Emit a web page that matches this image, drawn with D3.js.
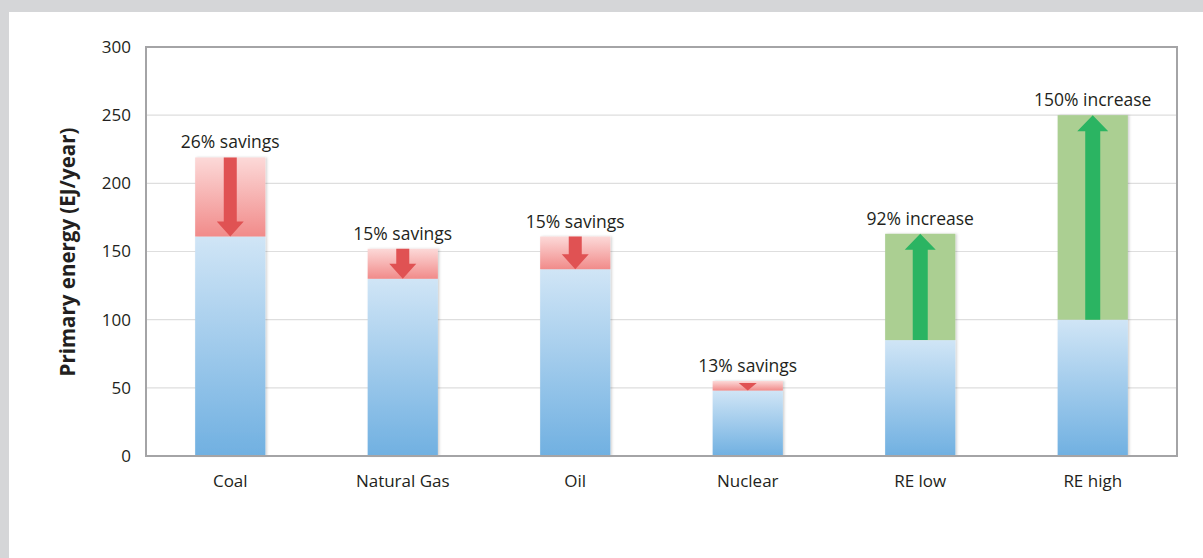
<!DOCTYPE html>
<html>
<head>
<meta charset="utf-8">
<script src="https://cdn.jsdelivr.net/npm/d3@7"></script>
<style>
body { margin: 0; background: #d5d6d8; }
svg { display: block; }
text { font-family: "Open Sans", "DejaVu Sans", sans-serif; fill: #231f20; }
</style>
</head>
<body>
<svg id="chart" width="1203" height="558"></svg>
<script>
// categories and values (EJ/year)
var categories = ["Coal", "Natural Gas", "Oil", "Nuclear", "RE low", "RE high"];
var baseValues = [161, 130, 137, 48, 85, 100];
var topValues  = [219, 152, 161, 55, 163, 250];
var labels = ["26% savings", "15% savings", "15% savings", "13% savings", "92% increase", "150% increase"];
var yTicks = [0, 50, 100, 150, 200, 250, 300];

var svg = d3.select("#chart"),
    WIDTH = 1203,
    HEIGHT = 558,
    MARGINS = { top: 47, right: 26, bottom: 102, left: 146 };

// white panel
svg.append("rect")
    .attr("x", 9).attr("y", 12)
    .attr("width", WIDTH - 9).attr("height", HEIGHT - 12)
    .attr("fill", "#fff");

var defs = svg.append("defs");
function grad(id, c1, c2) {
    var g = defs.append("linearGradient").attr("id", id)
        .attr("x1", 0).attr("y1", 0).attr("x2", 0).attr("y2", 1);
    g.append("stop").attr("offset", "0%").attr("stop-color", c1);
    g.append("stop").attr("offset", "100%").attr("stop-color", c2);
}
grad("blueGrad", "#d0e5f6", "#70b0e1");
grad("redGrad", "#fcd9d8", "#f18b8a");

var shadow = defs.append("filter").attr("id", "shadow")
    .attr("x", "-10%").attr("y", "-10%").attr("width", "130%").attr("height", "120%");
shadow.append("feDropShadow").attr("dx", 1.5).attr("dy", 0).attr("stdDeviation", 1.2)
    .attr("flood-color", "#000").attr("flood-opacity", 0.18);

var xScale = d3.scaleBand()
    .domain(categories)
    .range([MARGINS.left, WIDTH - MARGINS.right])
    .paddingInner(0.593)
    .paddingOuter(0.285);

var yScale = d3.scaleLinear()
    .domain([0, 300])
    .range([HEIGHT - MARGINS.bottom, MARGINS.top]);

// gridlines
svg.append("g").selectAll("line")
    .data(yTicks.filter(function (d) { return d > 0 && d < 300; }))
    .enter().append("line")
    .attr("x1", MARGINS.left).attr("x2", WIDTH - MARGINS.right)
    .attr("y1", function (d) { return yScale(d); })
    .attr("y2", function (d) { return yScale(d); })
    .attr("stroke", "#dedede")
    .attr("stroke-width", 1.2);

// y axis tick labels
var yAxis = d3.axisLeft(yScale).tickValues(yTicks).tickSize(0).tickPadding(15);
var yg = svg.append("g")
    .attr("transform", "translate(" + MARGINS.left + ",0)")
    .call(yAxis);
yg.select(".domain").remove();
yg.selectAll("text").style("font-size", "17px").attr("fill", "#231f20")
    .style("font-family", "'Open Sans', sans-serif");

// x axis category labels
var xAxis = d3.axisBottom(xScale).tickSize(0).tickPadding(19);
var xg = svg.append("g")
    .attr("transform", "translate(0," + yScale(0) + ")")
    .call(xAxis);
xg.select(".domain").remove();
xg.selectAll("text").style("font-size", "17px").attr("fill", "#231f20")
    .style("font-family", "'Open Sans', sans-serif");

var bw = xScale.bandwidth();

var bars = svg.append("g").selectAll("g")
    .data(categories)
    .enter().append("g")
    .attr("filter", "url(#shadow)");

// base (blue) bars
bars.append("rect")
    .attr("x", function (d) { return xScale(d); })
    .attr("width", bw)
    .attr("y", function (d, i) { return yScale(baseValues[i]); })
    .attr("height", function (d, i) { return yScale(0) - yScale(baseValues[i]); })
    .attr("fill", "url(#blueGrad)");

// change (red/green) bars
bars.append("rect")
    .attr("x", function (d) { return xScale(d); })
    .attr("width", bw)
    .attr("y", function (d, i) { return yScale(topValues[i]); })
    .attr("height", function (d, i) { return yScale(baseValues[i]) - yScale(topValues[i]); })
    .attr("fill", function (d, i) { return i < 4 ? "url(#redGrad)" : "#abcf92"; });

// arrows
svg.append("g").selectAll("path")
    .data(categories)
    .enter().append("path")
    .attr("fill", function (d, i) { return i < 4 ? "#e05253" : "#2bb462"; })
    .attr("d", function (d, i) {
        var cx = xScale(d) + bw / 2;
        var yTop = yScale(topValues[i]), yBase = yScale(baseValues[i]);
        var p = d3.path();
        if (i < 4) {
            // downward arrow: tip at the base value
            if (yBase - yTop <= 15) {
                // head only
                var h = yBase - yTop - 2;
                p.moveTo(cx - 9, yBase - h);
                p.lineTo(cx + 9, yBase - h);
                p.lineTo(cx, yBase);
                p.closePath();
                return p.toString();
            }
            var hw = 13.5, sw = 6.5, hh = 15;
            var hs = yBase - hh;
            p.moveTo(cx - sw, yTop);
            p.lineTo(cx + sw, yTop);
            p.lineTo(cx + sw, hs);
            p.lineTo(cx + hw, hs);
            p.lineTo(cx, yBase);
            p.lineTo(cx - hw, hs);
            p.lineTo(cx - sw, hs);
            p.closePath();
        } else {
            // upward arrow: tip at the top value
            var hw2 = 15.5, sw2 = 7.5, hh2 = 16;
            var he = yTop + hh2;
            p.moveTo(cx, yTop);
            p.lineTo(cx + hw2, he);
            p.lineTo(cx + sw2, he);
            p.lineTo(cx + sw2, yBase);
            p.lineTo(cx - sw2, yBase);
            p.lineTo(cx - sw2, he);
            p.lineTo(cx - hw2, he);
            p.closePath();
        }
        return p.toString();
    });

// annotation labels
svg.append("g").selectAll("text")
    .data(categories)
    .enter().append("text")
    .attr("x", function (d) { return xScale(d) + bw / 2; })
    .attr("y", function (d, i) { return yScale(topValues[i]) - 9; })
    .attr("text-anchor", "middle")
    .style("font-size", "17.5px")
    .text(function (d, i) { return labels[i]; });

// plot frame
svg.append("rect")
    .attr("x", MARGINS.left).attr("y", MARGINS.top)
    .attr("width", WIDTH - MARGINS.right - MARGINS.left)
    .attr("height", yScale(0) - MARGINS.top)
    .attr("fill", "none")
    .attr("stroke", "#a4a4a6")
    .attr("stroke-width", 2);

// y axis title
svg.append("text")
    .attr("transform", "rotate(-90)")
    .attr("x", -252)
    .attr("y", 75)
    .style("text-anchor", "middle")
    .style("font-size", "20.5px")
    .style("font-weight", 700)
    .text("Primary energy (EJ/year)");
</script>
</body>
</html>
